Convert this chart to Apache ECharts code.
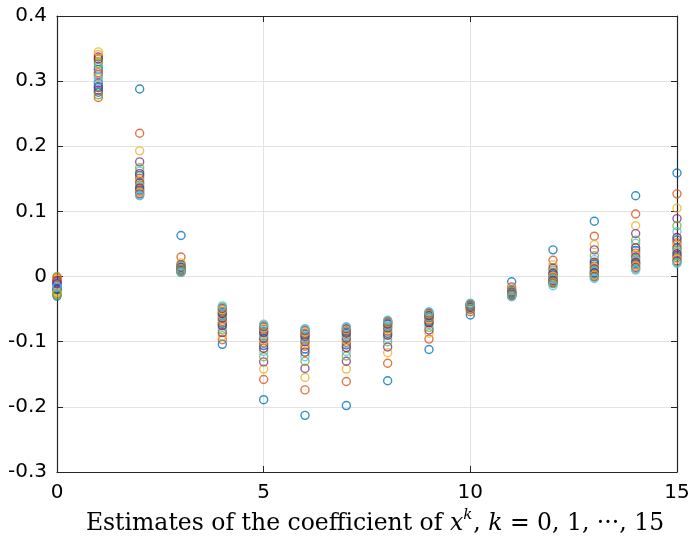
<!DOCTYPE html>
<html>
<head>
<meta charset="utf-8">
<script src="https://cdn.jsdelivr.net/npm/echarts@6/dist/echarts.min.js"></script>
<style>
  html, body { margin: 0; padding: 0; background: #fff; }
  #chart { width: 690px; height: 536px; }
</style>
</head>
<body>
<div id="chart"></div>
<script>
// Estimates of each polynomial coefficient over 20 repeated fits (run 1 .. run 20)
const coefIndex = [0, 1, 2, 3, 4, 5, 6, 7, 8, 9, 10, 11, 12, 13, 14, 15];

const k0  = [-0.030, -0.027, -0.022, -0.018, -0.025, -0.012, -0.020, -0.008, -0.015, -0.004, -0.010, 0.000, -0.014, -0.006, -0.019, -0.002, -0.024, -0.011, -0.028, -0.016];
const k1  = [0.283, 0.275, 0.341, 0.337, 0.330, 0.322, 0.290, 0.318, 0.310, 0.305, 0.297, 0.327, 0.300, 0.334, 0.292, 0.313, 0.345, 0.286, 0.279, 0.307];
const k2  = [0.288, 0.220, 0.193, 0.176, 0.167, 0.162, 0.158, 0.155, 0.151, 0.147, 0.144, 0.141, 0.138, 0.136, 0.133, 0.131, 0.129, 0.127, 0.125, 0.124];
const k3  = [0.063, 0.030, 0.021, 0.018, 0.016, 0.015, 0.014, 0.013, 0.012, 0.012, 0.011, 0.010, 0.010, 0.009, 0.009, 0.008, 0.008, 0.007, 0.007, 0.006];
const k4  = [-0.104, -0.097, -0.091, -0.086, -0.082, -0.078, -0.075, -0.072, -0.069, -0.066, -0.064, -0.061, -0.059, -0.057, -0.055, -0.053, -0.051, -0.049, -0.047, -0.045];
const k5  = [-0.189, -0.158, -0.142, -0.131, -0.123, -0.115, -0.110, -0.106, -0.102, -0.098, -0.095, -0.092, -0.089, -0.086, -0.084, -0.081, -0.079, -0.077, -0.075, -0.073];
const k6  = [-0.213, -0.174, -0.155, -0.141, -0.130, -0.123, -0.116, -0.111, -0.107, -0.103, -0.100, -0.097, -0.094, -0.092, -0.089, -0.087, -0.085, -0.083, -0.081, -0.080];
const k7  = [-0.198, -0.161, -0.142, -0.130, -0.122, -0.115, -0.109, -0.105, -0.101, -0.098, -0.095, -0.092, -0.090, -0.087, -0.085, -0.083, -0.081, -0.080, -0.078, -0.077];
const k8  = [-0.160, -0.133, -0.117, -0.108, -0.100, -0.095, -0.090, -0.087, -0.084, -0.081, -0.079, -0.077, -0.075, -0.073, -0.072, -0.071, -0.070, -0.069, -0.068, -0.067];
const k9  = [-0.112, -0.096, -0.087, -0.082, -0.078, -0.074, -0.071, -0.069, -0.067, -0.065, -0.063, -0.062, -0.061, -0.060, -0.059, -0.058, -0.057, -0.056, -0.055, -0.054];
const k10 = [-0.059, -0.054, -0.051, -0.050, -0.049, -0.048, -0.047, -0.046, -0.046, -0.045, -0.045, -0.044, -0.044, -0.043, -0.043, -0.043, -0.042, -0.042, -0.042, -0.041];
const k11 = [-0.008, -0.016, -0.019, -0.021, -0.022, -0.023, -0.024, -0.025, -0.025, -0.026, -0.026, -0.027, -0.027, -0.028, -0.028, -0.029, -0.029, -0.030, -0.030, -0.031];
const k12 = [0.041, 0.025, 0.018, 0.013, 0.010, 0.007, 0.005, 0.003, 0.001, 0.000, -0.002, -0.003, -0.004, -0.006, -0.007, -0.008, -0.009, -0.010, -0.011, -0.014];
const k13 = [0.085, 0.062, 0.049, 0.041, 0.032, 0.026, 0.022, 0.019, 0.016, 0.014, 0.012, 0.010, 0.008, 0.006, 0.005, 0.003, 0.002, 0.000, -0.001, -0.003];
const k14 = [0.124, 0.096, 0.078, 0.066, 0.056, 0.051, 0.044, 0.040, 0.036, 0.033, 0.030, 0.027, 0.025, 0.022, 0.020, 0.018, 0.016, 0.014, 0.012, 0.010];
const k15 = [0.159, 0.127, 0.105, 0.089, 0.078, 0.069, 0.060, 0.056, 0.052, 0.048, 0.044, 0.041, 0.038, 0.035, 0.032, 0.029, 0.027, 0.024, 0.022, 0.020];

const byCoef = [k0, k1, k2, k3, k4, k5, k6, k7, k8, k9, k10, k11, k12, k13, k14, k15];
const runCount = k0.length;

// Default colour order for successive runs
const palette = ['#0072BD', '#D95319', '#EDB120', '#7E2F8E', '#77AC30', '#4DBEEE', '#A2142F'];

const series = [];
for (let r = 0; r < runCount; r++) {
  const c = palette[r % palette.length];
  series.push({
    type: 'scatter',
    xAxisIndex: 0,
    yAxisIndex: 0,
    symbol: 'circle',
    symbolSize: 8,
    itemStyle: { color: 'rgba(0,0,0,0)', borderColor: c, borderWidth: 1.4 },
    emphasis: { disabled: true },
    data: coefIndex.map(k => [k, byCoef[k][r]])
  });
}

const axisColor = '#262626';
const labelFont = { fontFamily: 'DejaVu Sans, Liberation Sans, sans-serif', fontSize: 20, color: '#000' };
const serif = 'DejaVu Serif';

const chart = echarts.init(document.getElementById('chart'), null, { renderer: 'canvas' });
chart.setOption({
  animation: false,
  backgroundColor: '#fff',
  grid: { left: 57, right: 13, top: 16, bottom: 64, show: false, outerBoundsMode: 'none', containLabel: false },
  xAxis: [
    {
      type: 'value', min: 0, max: 15, interval: 5, position: 'bottom',
      axisLine: { onZero: false, lineStyle: { color: axisColor, width: 1.2 } },
      axisTick: { inside: true, length: 6, lineStyle: { color: axisColor } },
      axisLabel: Object.assign({ margin: 11 }, labelFont),
      splitLine: { show: true, lineStyle: { color: '#e3e3e3', width: 1 } },
      name: '{t|Estimates of the coefficient of }{i|x}{s|k}{t|, }{i|k}{t| = 0, 1, \u00b7\u00b7\u00b7, 15}',
      nameLocation: 'middle',
      nameGap: 34,
      nameTextStyle: {
        padding: [0, 0, 0, 16],
        rich: {
          t: { fontFamily: serif, fontSize: 23.5, color: '#000', lineHeight: 30 },
          i: { fontFamily: serif, fontStyle: 'italic', fontSize: 23.5, color: '#000', lineHeight: 30 },
          s: { fontFamily: serif, fontStyle: 'italic', fontSize: 15, color: '#000', lineHeight: 30, padding: [0, 1, 16, 0] }
        }
      }
    },
    {
      type: 'value', min: 0, max: 15, interval: 5, position: 'top',
      axisLine: { show: true, onZero: false, lineStyle: { color: axisColor, width: 1.2 } },
      axisTick: { inside: true, length: 6, lineStyle: { color: axisColor } },
      axisLabel: { show: false },
      splitLine: { show: false }
    }
  ],
  yAxis: [
    {
      type: 'value', min: -0.3, max: 0.4, interval: 0.1, position: 'left',
      axisLine: { show: true, onZero: false, lineStyle: { color: axisColor, width: 1.2 } },
      axisTick: { show: true, inside: true, length: 6, lineStyle: { color: axisColor } },
      axisLabel: Object.assign({ margin: 10, formatter: v => String(Math.round(v * 10) / 10) }, labelFont),
      splitLine: { show: true, lineStyle: { color: '#e3e3e3', width: 1 } }
    },
    {
      type: 'value', min: -0.3, max: 0.4, interval: 0.1, position: 'right',
      axisLine: { show: true, onZero: false, lineStyle: { color: axisColor, width: 1.2 } },
      axisTick: { show: true, inside: true, length: 6, lineStyle: { color: axisColor } },
      axisLabel: { show: false },
      splitLine: { show: false }
    }
  ],
  series: series
});
</script>
</body>
</html>
